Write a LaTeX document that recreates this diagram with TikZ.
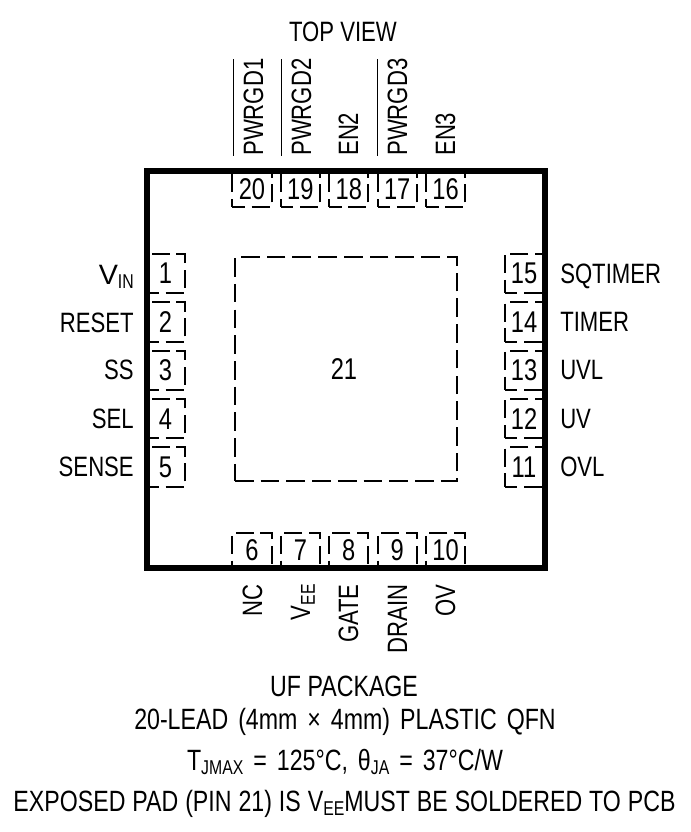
\documentclass[tikz,border=0pt]{standalone}
\usepackage{fontspec}
\usepackage{graphicx}
\setmainfont[FakeStretch=0.79]{Liberation Sans}
\newcommand{\pinbar}[1]{\setbox0=\hbox{#1}\rlap{\rule[21.6pt]{\wd0}{1.1pt}}\box0}
\newcommand{\pinsub}[1]{\raisebox{-3.6pt}{\fontsize{15}{15}\selectfont #1}}
\newcommand{\capgap}[1]{\spaceskip=#1\relax}
\begin{document}
\begin{tikzpicture}[x=0.75pt,y=-0.75pt,
	every node/.style={inner sep=0pt,font=\fontsize{21}{24}\selectfont},
	pinbox/.style={draw,line width=1.5pt,dash pattern=on 13.5pt off 5pt,dash phase=4pt,font=\fontsize{22.5}{24}\selectfont},
	toppin/.style={pinbox,minimum width=29.5pt,minimum height=27pt},
	sidepin/.style={pinbox,minimum width=29pt,minimum height=29.5pt},
	uplabel/.style={rotate=90,anchor=base west},
	downlabel/.style={rotate=90,anchor=base east},
	leftlabel/.style={anchor=base east},
	rightlabel/.style={anchor=base west},
	caption/.style={anchor=base,font=\fontsize{22}{24}\selectfont}]
	\useasboundingbox (0,0) rectangle (690,832);
	\node [anchor=base] (view) at (343,41) {TOP VIEW};
	\node [uplabel] (lbl20) at (263,156) {\pinbar{PWRGD1}};
	\node [uplabel] (lbl19) at (311,156) {\pinbar{PWRGD2}};
	\node [uplabel] (lbl18) at (358,156) {EN2};
	\node [uplabel] (lbl17) at (407,156) {\pinbar{PWRGD3}};
	\node [uplabel] (lbl16) at (455,156) {EN3};
	\node [toppin] (pin20) at (252,189) {20};
	\node [toppin] (pin19) at (300.4,189) {19};
	\node [toppin] (pin18) at (348.8,189) {18};
	\node [toppin] (pin17) at (397.2,189) {17};
	\node [toppin] (pin16) at (445.6,189) {16};
	\node [toppin] (pin6) at (252,550.5) {6};
	\node [toppin] (pin7) at (300.4,550.5) {7};
	\node [toppin] (pin8) at (348.8,550.5) {8};
	\node [toppin] (pin9) at (397.2,550.5) {9};
	\node [toppin] (pin10) at (445.6,550.5) {10};
	\node [sidepin] (pin1) at (165.5,273.5) {1};
	\node [sidepin] (pin2) at (165.5,322) {2};
	\node [sidepin] (pin3) at (165.5,370.3) {3};
	\node [sidepin] (pin4) at (165.5,418.7) {4};
	\node [sidepin] (pin5) at (165.5,467) {5};
	\node [sidepin] (pin15) at (524,273.5) {15};
	\node [sidepin] (pin14) at (524,322) {14};
	\node [sidepin] (pin13) at (524,370.3) {13};
	\node [sidepin] (pin12) at (524,418.7) {12};
	\node [sidepin] (pin11) at (524,467) {11};
	\node [draw,line width=1.5pt,dash pattern=on 14pt off 5.3pt,minimum width=166.5pt,minimum height=168pt,font=\fontsize{22.5}{24}\selectfont] (pin21) at (346,369) {\hspace*{-3pt}21};
	\node [draw,line width=4.5pt,minimum width=298.5pt,minimum height=298pt] (pkg) at (346,369.5) {};
	\node [leftlabel] (lbl1) at (134,284) {\scalebox{1.3}[1]{V}\pinsub{IN}};
	\node [leftlabel] (lbl2) at (134,332) {RESET};
	\node [leftlabel] (lbl3) at (134,379) {SS};
	\node [leftlabel] (lbl4) at (134,428) {SEL};
	\node [leftlabel] (lbl5) at (134,476) {SENSE};
	\node [rightlabel] (lbl15) at (560,283) {SQTIMER};
	\node [rightlabel] (lbl14) at (560,331) {TIMER};
	\node [rightlabel] (lbl13) at (560,379) {UVL};
	\node [rightlabel] (lbl12) at (560,428) {UV};
	\node [rightlabel] (lbl11) at (560,476) {OVL};
	\node [downlabel] (lbl6) at (262,584) {NC};
	\node [downlabel] (lbl7) at (310,584) {V\pinsub{EE}};
	\node [downlabel] (lbl8) at (358,584) {GATE};
	\node [downlabel] (lbl9) at (407,584) {DRAIN};
	\node [downlabel] (lbl10) at (455,584) {OV};
	\node [caption] (pack) at (344,696) {\capgap{5pt}UF PACKAGE};
	\node [caption] (lead) at (345,729) {\capgap{7.5pt}20-LEAD (4mm × 4mm) PLASTIC QFN};
	\node [caption] (temp) at (345,770) {\capgap{7.5pt}T\pinsub{JMAX} = 125°C, θ\pinsub{JA} = 37°C/W};
	\node [caption] (pad) at (344.5,811) {\capgap{5.2pt}EXPOSED PAD (PIN 21) IS V\pinsub{EE}MUST BE SOLDERED TO PCB};
\end{tikzpicture}
\end{document}
